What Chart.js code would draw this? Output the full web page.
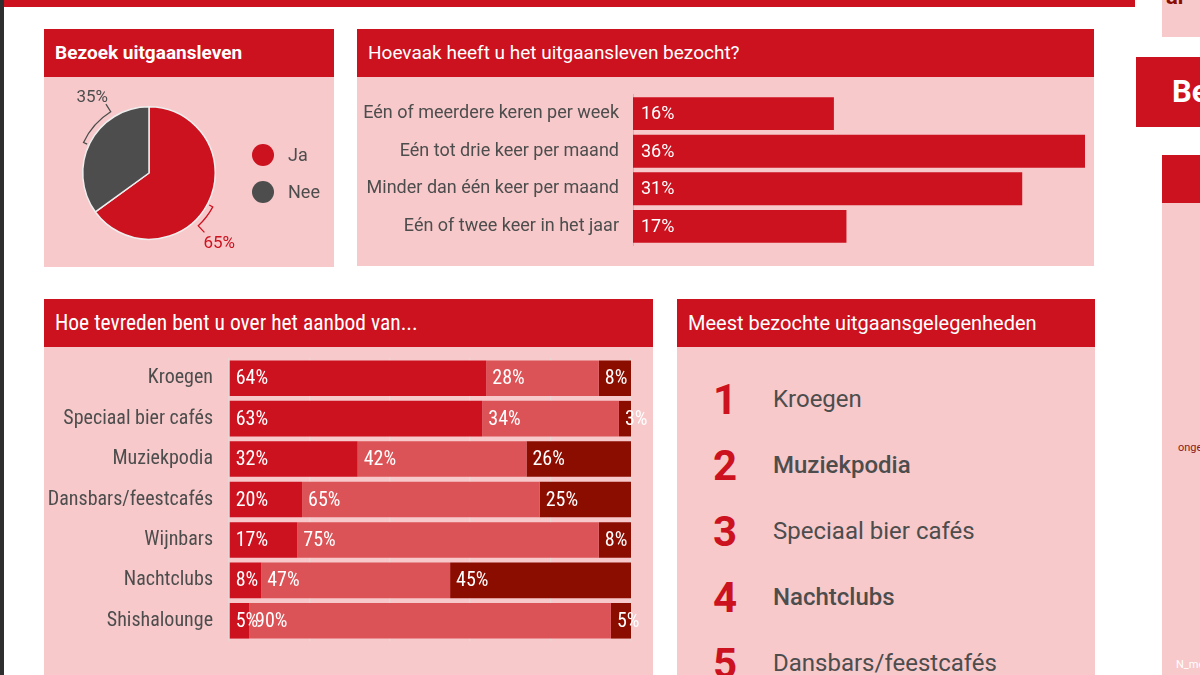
<!DOCTYPE html>
<html lang="nl">
<head>
<meta charset="utf-8">
<script src="https://cdn.jsdelivr.net/npm/chart.js@4.4.0/dist/chart.umd.min.js"></script>
<style>
  body { margin: 0; width: 1200px; height: 675px; background: #fff; position: relative; overflow: hidden; font-family: Roboto, sans-serif; }
  .blok { position: absolute; }
  .kop { position: absolute; background: #CC111F; color: #fff; height: 48px; line-height: 48px; font-size: 19px; box-sizing: border-box; padding-left: 11px; white-space: nowrap; overflow: hidden; }
  .vak { position: absolute; background: #F7C9CB; }
  canvas { position: absolute; }
  .legenda { position: absolute; left: 252px; font-size: 18px; color: #4D4D4D; }
  .legenda div { height: 37px; display: flex; align-items: center; }
  .legenda span.bol { width: 22px; height: 22px; border-radius: 50%; display: inline-block; margin-right: 14px; }
  .top5 { position: absolute; left: 677px; top: 347px; width: 418px; }
  .top5 .rij { position: absolute; left: 0; height: 60px; display: flex; align-items: center; white-space: nowrap; }
  .top5 .nr { width: 96px; text-align: center; color: #CC111F; font-size: 42px; font-weight: 700; }
  .top5 .naam { color: #4D4D4D; font-size: 24px; }
</style>
</head>
<body>

<!-- randen van de pagina -->
<div class="blok" style="left:0;top:0;width:4px;height:675px;background:#2e2e2e"></div>
<div class="blok" style="left:4px;top:0;width:1131px;height:7px;background:#CC111F"></div>

<!-- rechter rand: stukjes van het volgende blad -->
<div class="vak" style="left:1162px;top:0;width:38px;height:37px;overflow:hidden">
  <div style="position:absolute;left:4px;top:-16px;font-size:22px;font-weight:700;color:#8B0D00">ar</div>
</div>
<div class="blok" style="left:1136px;top:57px;width:64px;height:70px;background:#CC111F;overflow:hidden">
  <div style="position:absolute;left:36px;top:16px;font-size:31px;font-weight:700;color:#fff">Be</div>
</div>
<div class="blok" style="left:1162px;top:155px;width:38px;height:48px;background:#CC111F"></div>
<div class="vak" style="left:1162px;top:203px;width:38px;height:472px;overflow:hidden">
  <div style="position:absolute;left:16px;top:238px;font-size:11px;color:#8B1A1A">ongeveer</div>
  <div style="position:absolute;left:14px;top:455px;font-size:11px;color:#fff">N_meting</div>
</div>

<!-- paneel 1 -->
<div class="kop" style="left:44px;top:29px;width:290px;font-weight:700">Bezoek uitgaansleven</div>
<div class="vak" style="left:44px;top:77px;width:290px;height:190px"></div>
<canvas id="taart" width="210" height="192" style="left:44px;top:77px"></canvas>
<div class="legenda" id="legenda" style="top:136px"></div>

<!-- paneel 2 -->
<div class="kop" style="left:357px;top:29px;width:737px">Hoevaak heeft u het uitgaansleven bezocht?</div>
<div class="vak" style="left:357px;top:77px;width:737px;height:189px"></div>
<canvas id="vaak" width="737" height="200" style="left:357px;top:70px"></canvas>

<!-- paneel 3 -->
<div class="kop" style="left:44px;top:299px;width:609px;font-family:'Liberation Sans Narrow','Roboto Condensed',Roboto;font-size:21.5px">Hoe tevreden bent u over het aanbod van...</div>
<div class="vak" style="left:44px;top:347px;width:609px;height:328px"></div>
<canvas id="aanbod" width="609" height="345" style="left:44px;top:330px"></canvas>

<!-- paneel 4 -->
<div class="kop" style="left:677px;top:299px;width:418px;font-size:20px">Meest bezochte uitgaansgelegenheden</div>
<div class="vak" style="left:677px;top:347px;width:418px;height:328px"></div>
<div class="top5" id="top5"></div>

<script>
// Bezoek uitgaansleven
const bezoekLabels = ['Ja', 'Nee']
const bezoekWaarden = [65, 35]
const bezoekKleuren = ['#CC111F', '#4D4D4D']

// Hoevaak bezocht
const vaakLabels = ['Eén of meerdere keren per week', 'Eén tot drie keer per maand', 'Minder dan één keer per maand', 'Eén of twee keer in het jaar']
const vaakWaarden = [16, 36, 31, 17]

// Tevredenheid aanbod
const aanbodLabels = ['Kroegen', 'Speciaal bier cafés', 'Muziekpodia', 'Dansbars/feestcafés', 'Wijnbars', 'Nachtclubs', 'Shishalounge']
const tevreden = [64, 63, 32, 20, 17, 8, 5]
const neutraal = [28, 34, 42, 65, 75, 47, 90]
const ontevreden = [8, 3, 26, 25, 8, 45, 5]

// Top 5 meest bezocht
const top5Namen = ['Kroegen', 'Muziekpodia', 'Speciaal bier cafés', 'Nachtclubs', 'Dansbars/feestcafés']
const top5Gewicht = [400, 500, 400, 500, 400]

const SMAL = "'Liberation Sans Narrow', 'Roboto Condensed', Roboto"
Chart.defaults.animation = false
Chart.defaults.font.family = 'Roboto'

// Percentages in de balken schrijven
const waardeLabels = {
    id: 'waardeLabels',
    afterDatasetsDraw(chart, args, opts) {
        const ctx = chart.ctx
        ctx.save()
        ctx.font = opts.font
        ctx.fillStyle = '#fff'
        ctx.textBaseline = 'middle'
        chart.data.datasets.forEach((ds, di) => {
            chart.getDatasetMeta(di).data.forEach((bar, i) => {
                const tekst = (ds.ruw ? ds.ruw[i] : ds.data[i]) + '%'
                ctx.fillText(tekst, Math.min(bar.x, bar.base) + opts.afstand, bar.y + 1)
            })
        })
        ctx.restore()
    }
}

// Haakjes met percentages naast de taart
const taartHaken = {
    id: 'taartHaken',
    afterDatasetsDraw(chart, args, opts) {
        const ctx = chart.ctx
        const meta = chart.getDatasetMeta(0)
        const rad = d => d * Math.PI / 180
        meta.data.forEach((arc, i) => {
            const h = opts.haken[i]
            const r = arc.outerRadius + 6
            const p = (hoek, rr) => [arc.x + rr * Math.cos(rad(hoek)), arc.y + rr * Math.sin(rad(hoek))]
            ctx.save()
            ctx.strokeStyle = bezoekKleuren[i]
            ctx.lineWidth = 1.3
            ctx.beginPath()
            let [x, y] = p(h.van, r - 4)
            ctx.moveTo(x, y)
            ;[x, y] = p(h.van, r)
            ctx.lineTo(x, y)
            ctx.arc(arc.x, arc.y, r, rad(h.van), rad(h.tot), h.van > h.tot)
            const [ex, ey] = p(h.tot, r + 9)
            ctx.lineTo(ex, ey)
            ctx.stroke()
            ctx.fillStyle = bezoekKleuren[i]
            ctx.font = '17px Roboto'
            ctx.textAlign = h.uitlijn
            ctx.textBaseline = h.basis
            ctx.fillText(bezoekWaarden[i] + '%', ex + h.dx, ey + h.dy)
            ctx.restore()
        })
    }
}

new Chart(document.getElementById('taart'), {
    type: 'pie',
    data: {
        labels: bezoekLabels,
        datasets: [{
            data: bezoekWaarden,
            backgroundColor: bezoekKleuren,
            borderColor: '#eeeeee',
            borderWidth: 1.5
        }]
    },
    options: {
        responsive: false,
        layout: { padding: { left: 38, right: 38, top: 29, bottom: 29 } },
        plugins: {
            legend: { display: false },
            tooltip: { enabled: false },
            taartHaken: {
                haken: [
                    { van: 28, tot: 47, uitlijn: 'left', basis: 'top', dx: -1, dy: 3 },
                    { van: -155, tot: -122, uitlijn: 'right', basis: 'bottom', dx: 2, dy: 2 }
                ]
            }
        }
    },
    plugins: [taartHaken]
})

// Legenda van de taart
let legenda = document.getElementById('legenda')
bezoekLabels.forEach((lab, i) => {
    let rij = document.createElement('div')
    rij.innerHTML = `<span class="bol" style="background:${bezoekKleuren[i]}"></span>${lab}`
    legenda.appendChild(rij)
})

new Chart(document.getElementById('vaak'), {
    type: 'bar',
    data: {
        labels: vaakLabels,
        datasets: [{
            data: vaakWaarden,
            backgroundColor: '#CC111F',
            barPercentage: 0.875,
            categoryPercentage: 1
        }]
    },
    options: {
        indexAxis: 'y',
        responsive: false,
        layout: { padding: { top: 18, bottom: 18, right: 9 } },
        scales: {
            x: { display: false, min: 0, max: 36 },
            y: {
                afterFit: s => { s.width = 276 },
                grid: { display: false, drawTicks: false },
                border: { display: true, color: '#c9b3b4', width: 1 },
                ticks: { color: '#4D4D4D', font: { size: 18 }, padding: 14 }
            }
        },
        plugins: {
            legend: { display: false },
            tooltip: { enabled: false },
            waardeLabels: { font: '18px Roboto', afstand: 8 }
        }
    },
    plugins: [waardeLabels]
})

// 100% gestapeld: aandelen per rij uit de ruwe percentages
const totalen = tevreden.map((v, i) => v + neutraal[i] + ontevreden[i])
const aandeel = reeks => reeks.map((v, i) => v / totalen[i] * 100)

new Chart(document.getElementById('aanbod'), {
    type: 'bar',
    data: {
        labels: aanbodLabels,
        datasets: [
            { label: 'tevreden', data: aandeel(tevreden), ruw: tevreden, backgroundColor: '#CC111F' },
            { label: 'neutraal', data: aandeel(neutraal), ruw: neutraal, backgroundColor: '#DC5357' },
            { label: 'ontevreden', data: aandeel(ontevreden), ruw: ontevreden, backgroundColor: '#8B0D00' }
        ]
    },
    options: {
        indexAxis: 'y',
        responsive: false,
        datasets: { bar: { barPercentage: 0.88, categoryPercentage: 1 } },
        layout: { padding: { top: 10, bottom: 34, right: 22 } },
        scales: {
            x: {
                stacked: true, min: 0, max: 100,
                afterFit: s => { s.height = 0 },
                ticks: { display: false, stepSize: 20 },
                grid: { color: '#e9d6d7', lineWidth: 1.5, drawTicks: false },
                border: { display: false }
            },
            y: {
                stacked: true,
                afterFit: s => { s.width = 185 },
                grid: { display: false, drawTicks: false },
                border: { display: false },
                ticks: { color: '#4D4D4D', font: { size: 20, family: SMAL }, padding: 16 }
            }
        },
        plugins: {
            legend: { display: false },
            tooltip: { enabled: false },
            waardeLabels: { font: "20px " + SMAL, afstand: 6 }
        }
    },
    plugins: [waardeLabels]
})

// Top 5 lijst
let top5 = document.getElementById('top5')
top5Namen.forEach((naam, i) => {
    let rij = document.createElement('div')
    rij.className = 'rij'
    rij.style.top = (22 + i * 66) + 'px'
    rij.innerHTML = `<span class="nr">${i + 1}</span><span class="naam" style="font-weight:${top5Gewicht[i]}">${naam}</span>`
    top5.appendChild(rij)
})
</script>
</body>
</html>
